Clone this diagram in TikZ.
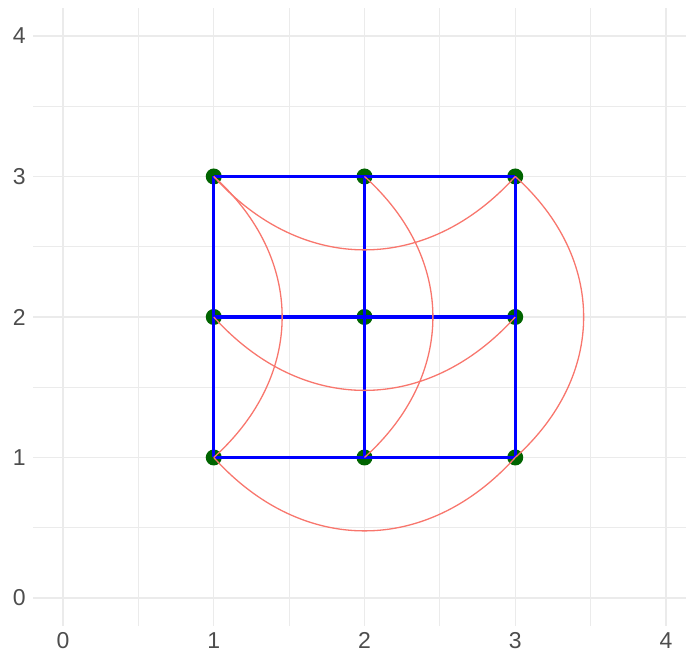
\documentclass[tikz,border=0pt]{standalone}
\usepackage{fontspec}
\setmainfont{Liberation Sans}
\usepackage{tikz}
\usetikzlibrary{positioning, calc}

\definecolor{gridgray}{HTML}{EBEBEB}
\definecolor{labelgray}{HTML}{4D4D4D}
\definecolor{salmon}{HTML}{F8766D}
\definecolor{dotgreen}{HTML}{006400}

\begin{document}
\begin{tikzpicture}[
    x=75.375pt, y=70.25pt,
    % Define grid and label styles
    major/.style={gridgray, line width=0.65pt},
    minor/.style={gridgray, line width=0.4pt},
    tick/.style={text=labelgray, inner sep=0pt, font=\fontsize{11.5}{12}\selectfont},
    % Define point and edge styles
    dot/.style={circle, fill=dotgreen, inner sep=0pt, minimum size=8pt},
    link/.style={blue, line width=1.6pt},
    arc/.style={salmon, line width=0.65pt},
]

% Fixing the margins of the plot
\useasboundingbox (-0.4179,-0.3772) rectangle (4.1327,4.2562);

% Drawing the panel grid
\foreach \v in {0.5,1.5,2.5,3.5} {
    \draw[minor] (-0.2,\v) -- (4.1327,\v);
    \draw[minor] (\v,-0.2) -- (\v,4.2);
}
\foreach \v in {0,...,4} {
    \draw[major] (-0.2,\v) -- (4.1327,\v);
    \draw[major] (\v,-0.2) -- (\v,4.2);
}

% Adding the axis labels
\foreach \v in {0,...,4} {
    \node[tick, anchor=east] (ylab\v) at (-0.245,\v) {\v};
    \node[tick] (xlab\v) at (\v,-0.30) {\v};
}

% Drawing the points
\foreach \x in {1,2,3} {
    \foreach \y in {1,2,3} {
        \node[dot] (p\x\y) at (\x,\y) {};
    }
}

% Connecting the points along rows and columns
\foreach \k in {1,2,3} {
    \draw[link] (p1\k.center) -- (p3\k.center);
    \draw[link] (p\k1.center) -- (p\k3.center);
}

% Adding the curved links between the outer points
\foreach \k in {1,2,3} {
    \draw[arc] (p1\k.center) to[bend right=48, looseness=1.12] (p3\k.center);
    \draw[arc] (p\k1.center) to[bend right=48, looseness=1.12] (p\k3.center);
}

\end{tikzpicture}
\end{document}
